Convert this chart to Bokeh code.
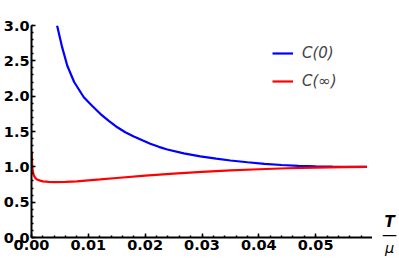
from bokeh.plotting import figure
from bokeh.layouts import row
from bokeh.models import Range1d, FixedTicker, Legend, LegendItem, Label, CustomJSTickFormatter
from bokeh.embed import file_html
from bokeh.resources import INLINE

# C(0) curve
t_c0 = [0.0045, 0.0054, 0.0063, 0.0075, 0.0092, 0.0107, 0.0121, 0.0136, 0.0151, 0.0165,
        0.0180, 0.0195, 0.0209, 0.0224, 0.0239, 0.0268, 0.0297, 0.0325, 0.0350, 0.0380,
        0.0410, 0.0440, 0.0470, 0.0500, 0.0530, 0.0560, 0.0590]
c0 = [3.00, 2.69, 2.43, 2.20, 1.985, 1.86, 1.75, 1.65, 1.56, 1.49,
      1.43, 1.375, 1.326, 1.283, 1.245, 1.19, 1.148, 1.115, 1.09, 1.065,
      1.042, 1.026, 1.014, 1.007, 1.003, 1.001, 1.0]

# C(inf) curve
t_cinf = [0.00005, 0.0001, 0.0002, 0.0004, 0.0007, 0.0010, 0.0015, 0.0020, 0.0030, 0.0040,
          0.0060, 0.0080, 0.0100, 0.0121, 0.0150, 0.0200, 0.0250, 0.0300, 0.0350, 0.0400,
          0.0450, 0.0500, 0.0550, 0.0590]
cinf = [1.20, 1.05, 0.95, 0.88, 0.84, 0.82, 0.805, 0.795, 0.787, 0.785,
        0.787, 0.795, 0.808, 0.822, 0.842, 0.875, 0.905, 0.930, 0.950, 0.966,
        0.980, 0.990, 0.997, 1.0]

x_major = [0.0, 0.01, 0.02, 0.03, 0.04, 0.05]
x_minor = [i * 0.002 for i in range(0, 30)]
y_major = [0.0, 0.5, 1.0, 1.5, 2.0, 2.5, 3.0]
y_minor = [i * 0.1 for i in range(0, 31)]
series_labels = ["C(0)", "C(\u221e)"]
axis_label_num = "T"
axis_label_den = "\u03bc"

p = figure(width=372, height=262, output_backend="svg", toolbar_location=None,
           x_range=Range1d(0, 0.06), y_range=Range1d(0, 3.0),
           min_border_left=31, min_border_right=0, min_border_top=25, min_border_bottom=25)
p.grid.visible = False
p.outline_line_color = None
p.background_fill_color = "white"
p.border_fill_color = "white"

r1 = p.line(t_c0, c0, line_color="#0000ff", line_width=2.2)
r2 = p.line(t_cinf, cinf, line_color="#ff0000", line_width=2.2)

for ax, major, minor, fmt in ((p.xaxis[0], x_major, x_minor, 2), (p.yaxis[0], y_major, y_minor, 1)):
    ax.ticker = FixedTicker(ticks=major, minor_ticks=minor)
    ax.formatter = CustomJSTickFormatter(code="return tick.toFixed(%d);" % fmt)
    ax.axis_line_width = 2
    ax.axis_line_color = "black"
    ax.major_tick_in = 4
    ax.major_tick_out = 0
    ax.minor_tick_in = 2
    ax.minor_tick_out = 0
    ax.major_tick_line_width = 1.5
    ax.minor_tick_line_width = 1.5
    ax.major_label_text_font = "DejaVu Sans"
    ax.major_label_text_font_style = "bold"
    ax.major_label_text_font_size = "14.5px"
    ax.major_label_text_color = "black"
    ax.major_label_standoff = 2

legend = Legend(items=[LegendItem(label=series_labels[0], renderers=[r1]),
                       LegendItem(label=series_labels[1], renderers=[r2])],
                location=(241, 146), border_line_color=None, background_fill_alpha=0,
                padding=0, margin=0, spacing=8, label_height=20, glyph_height=20,
                glyph_width=21, label_standoff=9, label_text_font="DejaVu Sans",
                label_text_font_style="italic", label_text_font_size="15px")
p.add_layout(legend)

# narrow strip to the right holding the T/mu axis label (frame is aligned with p's frame)
q = figure(width=27, height=262, output_backend="svg", toolbar_location=None,
           x_range=Range1d(0, 27), y_range=Range1d(0, 1), y_axis_type=None,
           min_border_left=0, min_border_right=0, min_border_top=0, min_border_bottom=0)
q.grid.visible = False
q.outline_line_color = None
q.border_fill_color = "white"
qa = q.xaxis[0]
qa.ticker = FixedTicker(ticks=[17], minor_ticks=[])
qa.formatter = CustomJSTickFormatter(code='return "%s";' % axis_label_den)
qa.axis_line_color = None
qa.major_tick_line_color = None
qa.minor_tick_line_color = None
qa.major_tick_in = 0
qa.major_tick_out = 0
qa.minor_tick_in = 0
qa.minor_tick_out = 0
qa.major_label_text_font = "DejaVu Sans"
qa.major_label_text_font_style = "italic"
qa.major_label_text_font_size = "14.5px"
qa.major_label_text_color = "black"
qa.major_label_standoff = 2

for txt, yy, style in ((axis_label_num, 16, "bold italic"), ("\u2014", 3, "normal")):
    q.add_layout(Label(x=17, y=yy, x_units="screen", y_units="screen", text=txt,
                       text_align="center", text_baseline="middle", text_font="DejaVu Sans",
                       text_font_style=style, text_font_size="15px", text_color="black"))

layout = row(p, q, spacing=0)
open("out.html", "w").write(file_html(layout, INLINE))
